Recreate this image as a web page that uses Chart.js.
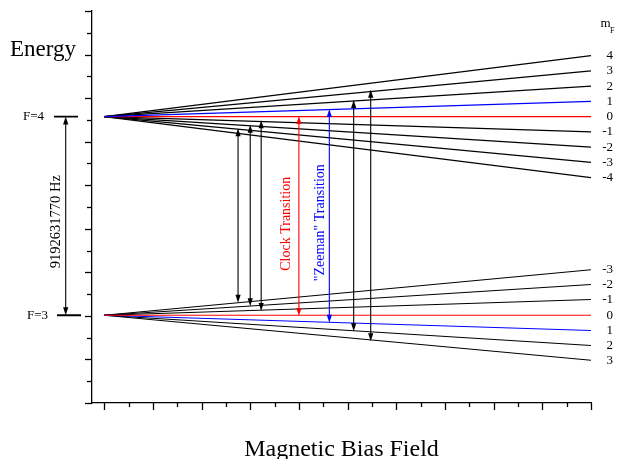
<!DOCTYPE html>
<html>
<head>
<meta charset="utf-8">
<script src="https://cdn.jsdelivr.net/npm/chart.js@4.4.1/dist/chart.umd.min.js"></script>
<style>
  html, body { margin: 0; padding: 0; background: #fff; }
  canvas { display: block; }
</style>
</head>
<body>
<canvas id="chart" width="619" height="459"></canvas>
<script>
// Zeeman splitting of the two hyperfine levels vs magnetic bias field
const FIELD_START = 0;
const FIELD_END = 20;

const F4_LEVEL = 13.15;
const F3_LEVEL = 4.03;

const mF4 = [4, 3, 2, 1, 0, -1, -2, -3, -4];
const f4End = [15.95, 15.25, 14.55, 13.85, 13.15, 12.45, 11.75, 11.05, 10.35];

const mF3 = [-3, -2, -1, 0, 1, 2, 3];
const f3End = [6.12, 5.44, 4.75, 4.03, 3.33, 2.64, 1.96];

// transitions (double arrows): field position, upper / lower energy, m
const arrowField = [5.5, 6.0, 6.45, 8.0, 9.25, 10.25, 10.95];
const arrowUpper = [12.62, 12.78, 12.98, 13.18, 13.5, 13.91, 14.38];
const arrowLower = [4.6, 4.44, 4.22, 4.0, 3.68, 3.3, 2.84];
const arrowM = [-3, -2, -1, 0, 1, 2, 3];

const FONT = '"Liberation Serif", "DejaVu Serif", serif';

function colorFor(m) {
    if (m === 0) return '#ff0000';
    if (m === 1) return '#0000ff';
    return '#000000';
}

function levelDataset(m, start, end) {
    return {
        label: 'm=' + m,
        data: [{ x: FIELD_START, y: start }, { x: FIELD_END, y: end }],
        borderColor: colorFor(m),
        borderWidth: 1.1,
        pointRadius: 0,
        tension: 0,
        order: (m === 0 || m === 1) ? 0 : 1
    };
}

const datasets = [];
mF4.forEach((m, i) => datasets.push(levelDataset(m, F4_LEVEL, f4End[i])));
mF3.forEach((m, i) => datasets.push(levelDataset(m, F3_LEVEL, f3End[i])));

function arrowHead(ctx, x, y, dir) {
    // dir = -1 points up, +1 points down
    ctx.beginPath();
    ctx.moveTo(x, y);
    ctx.lineTo(x - 2.6, y - dir * 8);
    ctx.lineTo(x + 2.6, y - dir * 8);
    ctx.closePath();
    ctx.fill();
}

function doubleArrow(ctx, x, yTop, yBottom, color) {
    ctx.save();
    ctx.strokeStyle = color;
    ctx.fillStyle = color;
    ctx.lineWidth = 1.1;
    ctx.beginPath();
    ctx.moveTo(x, yTop + 4);
    ctx.lineTo(x, yBottom - 4);
    ctx.stroke();
    arrowHead(ctx, x, yTop, -1);
    arrowHead(ctx, x, yBottom, 1);
    ctx.restore();
}

const decorPlugin = {
    id: 'decor',
    afterDatasetsDraw(chart) {
        const ctx = chart.ctx;
        const xs = chart.scales.x;
        const ys = chart.scales.y;
        arrowField.forEach((f, i) => {
            doubleArrow(ctx, xs.getPixelForValue(f), ys.getPixelForValue(arrowUpper[i]),
                ys.getPixelForValue(arrowLower[i]), colorFor(arrowM[i]));
        });
    },
    afterDraw(chart) {
        const ctx = chart.ctx;
        const xs = chart.scales.x;
        const ys = chart.scales.y;
        const area = chart.chartArea;

        ctx.save();
        ctx.strokeStyle = '#000';
        ctx.lineWidth = 1.3;
        // y ticks (outside, to the left)
        ys.ticks.forEach(t => {
            const y = Math.round(ys.getPixelForValue(t.value)) + 0.5;
            const len = t.value % 2 === 0 ? 7 : 5;
            ctx.beginPath();
            ctx.moveTo(area.left - len, y);
            ctx.lineTo(area.left, y);
            ctx.stroke();
        });
        // x ticks (outside, downwards)
        xs.ticks.forEach(t => {
            const x = Math.round(xs.getPixelForValue(t.value)) + 0.5;
            const len = t.value % 2 === 0 ? 7 : 4;
            ctx.beginPath();
            ctx.moveTo(x, area.bottom);
            ctx.lineTo(x, area.bottom + len);
            ctx.stroke();
        });

        // hyperfine splitting marker on the left
        const y4 = ys.getPixelForValue(F4_LEVEL);
        const y3 = ys.getPixelForValue(F3_LEVEL);
        ctx.lineWidth = 1.8;
        ctx.beginPath();
        ctx.moveTo(54, y4); ctx.lineTo(78, y4);
        ctx.moveTo(57, y3); ctx.lineTo(81, y3);
        ctx.stroke();
        ctx.restore();
        doubleArrow(ctx, 65.7, y4, y3, '#000');

        ctx.save();
        ctx.fillStyle = '#000';
        ctx.textBaseline = 'middle';
        ctx.font = '13px ' + FONT;
        ctx.textAlign = 'right';
        ctx.fillText('F=4', 44, y4);
        ctx.fillText('F=3', 48, y3);

        // m_F labels at the line ends
        mF4.forEach((m, i) => ctx.fillText(String(m), 613, ys.getPixelForValue(f4End[i])));
        mF3.forEach((m, i) => ctx.fillText(String(m), 613, ys.getPixelForValue(f3End[i])));

        ctx.textAlign = 'left';
        ctx.textBaseline = 'alphabetic';
        ctx.font = '13px ' + FONT;
        ctx.fillText('m', 600.5, 27);
        ctx.font = '8px ' + FONT;
        ctx.fillText('F', 610, 33);

        ctx.font = '23px ' + FONT;
        ctx.fillText('Energy', 10, 56);

        ctx.font = '24px ' + FONT;
        ctx.textAlign = 'center';
        ctx.fillText('Magnetic Bias Field', (area.left + area.right) / 2, 456);

        // rotated labels
        ctx.textBaseline = 'middle';
        ctx.save();
        ctx.translate(55.7, 221.7);
        ctx.rotate(-Math.PI / 2);
        ctx.font = '14.5px ' + FONT;
        ctx.fillText('9192631770 Hz', 0, 0);
        ctx.restore();

        ctx.save();
        ctx.translate(xs.getPixelForValue(7.5), ys.getPixelForValue(8.23));
        ctx.rotate(-Math.PI / 2);
        ctx.font = '14px ' + FONT;
        ctx.fillStyle = '#ff0000';
        ctx.fillText('Clock Transition', 0, 0);
        ctx.restore();

        ctx.save();
        ctx.translate(xs.getPixelForValue(8.86), ys.getPixelForValue(8.28));
        ctx.rotate(-Math.PI / 2);
        ctx.font = '14px ' + FONT;
        ctx.fillStyle = '#0000ff';
        ctx.fillText('"Zeeman" Transition', 0, 0);
        ctx.restore();

        ctx.restore();
    }
};

new Chart(document.getElementById('chart'), {
    type: 'line',
    data: { datasets: datasets },
    options: {
        responsive: false,
        animation: false,
        devicePixelRatio: 1,
        layout: { padding: { left: 92, right: 28, top: 11, bottom: 56 } },
        scales: {
            x: {
                type: 'linear',
                min: -0.5,
                max: 20,
                ticks: { display: false, stepSize: 1, includeBounds: false },
                grid: { display: false, drawTicks: false },
                border: { display: true, color: '#000', width: 1.3 }
            },
            y: {
                type: 'linear',
                min: 0,
                max: 18,
                ticks: { display: false, stepSize: 1 },
                grid: { display: false, drawTicks: false },
                border: { display: true, color: '#000', width: 1.3 }
            }
        },
        plugins: {
            legend: { display: false },
            tooltip: { enabled: false }
        }
    },
    plugins: [decorPlugin]
});
</script>
</body>
</html>
